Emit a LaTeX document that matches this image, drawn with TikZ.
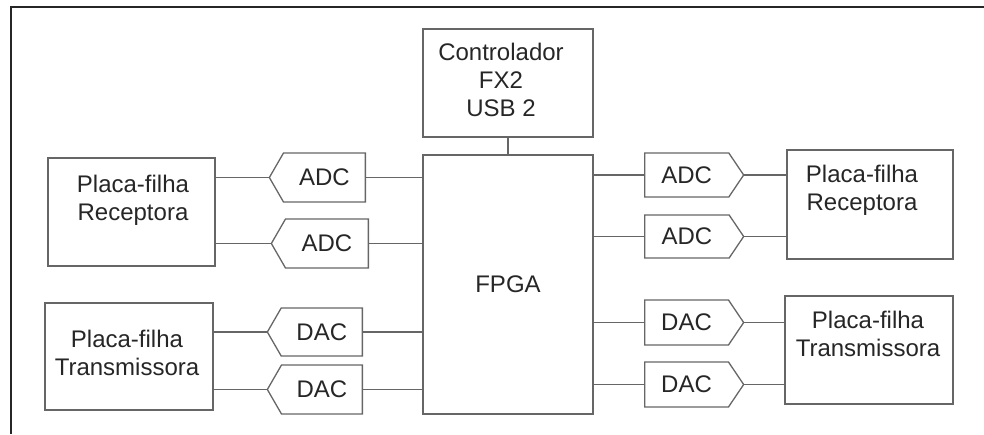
\documentclass[tikz,border=0pt]{standalone}
\usepackage{fontspec}
\setmainfont{Liberation Sans}
\usetikzlibrary{shapes.symbols}

\begin{document}
\begin{tikzpicture}[x=1pt, y=-1pt,
  every node/.style={font=\fontsize{24}{28}\selectfont, text=black!85},
  blk/.style={draw=black!60, line width=1.3pt, inner sep=0pt},
  conv/.style={draw=black!60, line width=1.3pt, shape=signal, inner sep=0pt,
    minimum height=#1},
  convL/.style={conv=#1, signal to=west, signal pointer angle=120},
  convR/.style={conv=#1, signal to=east, signal pointer angle=112},
  wire/.style={black!60, line width=1.3pt},
  txt/.style={align=center, anchor=north, inner sep=0pt}]
  \useasboundingbox (0,0) rectangle (984,434);
  % Frame (top and left edges only)
  \draw[black!85, line width=2.4pt] (984,7) -- (11,7) -- (11,434);
  % Central blocks
  \node[blk, minimum width=170, minimum height=108] (ctl) at (508,83) {};
  \node[txt] (ctl-txt) at (501,43) {Controlador\\FX2\\USB 2};
  \node[blk, minimum width=170, minimum height=259] (fpga) at (508,284.5) {FPGA};
  \draw[wire] (ctl.south) -- (fpga.north);
  % Daughter boards
  \node[blk, minimum width=167, minimum height=108] (rxL) at (131.5,212) {};
  \node[txt] (rxL-txt) at (133,175) {Placa-filha\\Receptora};
  \node[blk, minimum width=168, minimum height=107] (txL) at (129,356.5) {};
  \node[txt] (txL-txt) at (127,330) {Placa-filha\\Transmissora};
  \node[blk, minimum width=166, minimum height=109] (rxR) at (870,204.5) {};
  \node[txt] (rxR-txt) at (862,165) {Placa-filha\\Receptora};
  \node[blk, minimum width=168, minimum height=108] (txR) at (869,350) {};
  \node[txt] (txR-txt) at (868,311) {Placa-filha\\Transmissora};
  % Converters, left side
  \node[convL=49, minimum width=96, anchor=east] (adcL1) at (366,177.5) {ADC};
  \node[convL=49, minimum width=97, anchor=east] (adcL2) at (369,243.5) {ADC};
  \node[convL=48, minimum width=95, anchor=east] (dacL1) at (363,332) {DAC};
  \node[convL=49, minimum width=95, anchor=east] (dacL2) at (363,389.5) {DAC};
  % Converters, right side
  \node[convR=44, minimum width=99, anchor=west] (adcR1) at (644,175) {ADC};
  \node[convR=43, minimum width=99, anchor=west] (adcR2) at (644,236.5) {ADC};
  \node[convR=45, minimum width=99, anchor=west] (dacR1) at (644,322.5) {DAC};
  \node[convR=45, minimum width=99, anchor=west] (dacR2) at (644,384.5) {DAC};
  % Wires
  \foreach \c/\b in {adcL1/rxL, adcL2/rxL, dacL1/txL, dacL2/txL} {
    \draw[wire] (\c.west -| \b.east) -- (\c.west);
    \draw[wire] (\c.east) -- (\c.east -| fpga.west);
  }
  \foreach \c/\b in {adcR1/rxR, adcR2/rxR, dacR1/txR, dacR2/txR} {
    \draw[wire] (\c.east) -- (\c.east -| \b.west);
    \draw[wire] (\c.west -| fpga.east) -- (\c.west);
  }
\end{tikzpicture}
\end{document}
